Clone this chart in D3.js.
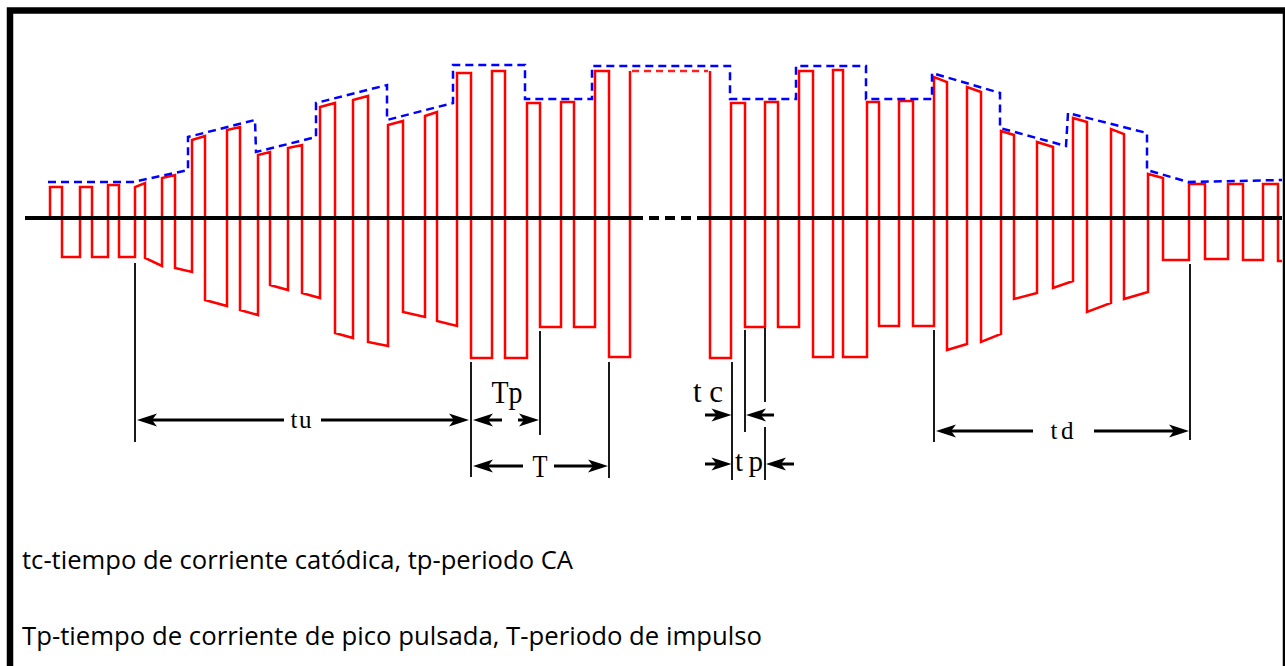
<!DOCTYPE html>
<html>
<head>
<meta charset="utf-8">
<script src="https://cdn.jsdelivr.net/npm/d3@7/dist/d3.min.js"></script>
<style>
  html, body { margin: 0; padding: 0; background: #fff; overflow: hidden; }
</style>
</head>
<body>
<svg id="chart"></svg>
<script>
// --- waveform data (time units, amplitude units) ---
const riseT = [50, 80, 108, 135, 162, 192, 227, 258, 288, 320, 353, 388, 425, 457, 492, 527, 561, 595,
               630, 731, 765, 799, 833, 867, 899, 934, 967, 1001, 1037, 1073, 1111, 1148, 1189, 1228, 1263];
const fallT = [62, 92, 119, 145, 175, 205, 240, 270, 302, 335, 368, 403, 437, 471, 505, 540, 574, 609,
               710, 745, 778, 813, 843, 879, 913, 947, 981, 1014, 1053, 1087, 1124, 1163, 1205, 1243, 1278];
const endT = 1300;
const posStart = [31, 31, 33, 31, 40, 78, 88, 63, 70, 111, 118, 93, 102, 145, 147, 115, 116, 147,
                  147, 115, 116, 147, 148, 116, 117, 141, 131, 87, 76, 100, 89, 44, 34, 34, 34];
const posEnd   = [31, 31, 33, 35, 43, 82, 91, 66, 73, 115, 122, 97, 106, 145, 147, 115, 116, 147,
                  147, 115, 116, 147, 148, 116, 117, 136, 126, 83, 71, 96, 84, 40, 34, 34, 34];
const negStart = [-39, -39, -39, -40, -50, -82, -92, -67, -75, -115, -124, -94, -103, -140, -140, -109, -109, -139,
                  -140, -109, -109, -139, -139, -108, -108, -132, -124, -81, -70, -94, -81, -42, -41, -42, -43];
const negEnd   = [-39, -39, -39, -48, -54, -88, -97, -72, -80, -120, -128, -99, -108, -140, -140, -109, -109, -139,
                  -140, -109, -109, -139, -139, -108, -108, -126, -116, -75, -63, -85, -74, -42, -41, -42, -43];
const brokenCycle = 18;          // top of this pulse is drawn dashed (time axis break)
const breakSpan = [632, 708];

// envelope (blue dashed)
const envT = [48, 133, 188, 188, 255, 256, 316, 316, 387, 387, 453, 453, 525, 525, 592, 592, 730, 730,
              796, 796, 866, 866, 932, 932, 1000, 1000, 1066, 1068, 1147, 1147, 1188, 1283];
const envA = [36, 36, 48, 81, 98, 66, 81, 115, 133, 98, 115, 153, 153, 119, 119, 152, 152, 119,
              119, 152, 152, 119, 119, 145, 125, 90, 72, 105, 85, 48, 36, 38];

// zero axis: solid / broken / solid
const axisT = [[25, 633], [633, 697], [697, 1285]];
const axisDash = [false, true, false];

// dimension annotations
const dimNames  = ['tu', 'Tp', 'T', 'tc', 'tp', 'td'];
const dimFrom   = [135, 471, 471, 732, 732, 934];
const dimTo     = [470, 540, 609, 745, 765, 1190];
const dimLevel  = [-202, -202, -248, -197, -246, -213];
const dimInside = [true, true, true, false, false, true];
const dimGap    = [[284, 321], [502, 518], [523, 554], null, null, [1033, 1094]];
const labelT    = [301, 507, 540, 708, 749, 1062];
const labelA    = [-210, -185, -259, -184, -253, -221];
const labelSize = [25, 31, 31, 31, 29, 25];
const labelLen  = [21, 31, 15, 30, 28, 23];
const labelSqueeze = [false, true, true, false, false, false];

// extension lines
const extT   = [135, 471, 540, 609, 732, 745, 765, 765, 934, 1190];
const extTop = [-45, -144, -113, -144, -144, -112, -110, -209, -112, -46];
const extBot = [-224, -259, -217, -260, -262, -214, -184, -262, -224, -222];

const notes = ['tc-tiempo de corriente catódica, tp-periodo CA',
               'Tp-tiempo de corriente de pico pulsada, T-periodo de impulso'];

// --- setup ---
const W = 1285, H = 666;
const svg = d3.select('#chart').attr('width', W).attr('height', H);

const x = d3.scaleLinear().domain([0, 1285]).range([0, 1285]);
const y = d3.scaleLinear().domain([0, 150]).range([218, 68]);

svg.append('defs').append('clipPath').attr('id', 'plot')
  .append('rect').attr('x', 14).attr('y', 14).attr('width', 1268).attr('height', 500);

// frame
svg.append('rect')
  .attr('x', 10).attr('y', 10.5)
  .attr('width', 1276).attr('height', 720)
  .attr('fill', 'none').attr('stroke', '#000').attr('stroke-width', 6.5);

const plot = svg.append('g').attr('clip-path', 'url(#plot)');

// build the red waveform points
const pts = [[riseT[0], 0]];
riseT.forEach((t, i) => {
  const next = i < riseT.length - 1 ? riseT[i + 1] : endT;
  pts.push([t, posStart[i]]);
  if (i === brokenCycle) pts.push(null);
  pts.push([fallT[i], posEnd[i]]);
  pts.push([fallT[i], negStart[i]]);
  pts.push([next, negEnd[i]]);
});

const line = d3.line()
  .defined(d => d !== null)
  .x(d => x(d[0]))
  .y(d => y(d[1]));

plot.append('path')
  .attr('d', line(pts))
  .attr('fill', 'none')
  .attr('stroke', '#ff0000')
  .attr('stroke-width', 2.5)
  .attr('stroke-linejoin', 'miter');

plot.append('line')
  .attr('x1', x(breakSpan[0])).attr('x2', x(breakSpan[1]))
  .attr('y1', y(posStart[brokenCycle])).attr('y2', y(posEnd[brokenCycle]))
  .attr('stroke', '#ff2020').attr('stroke-width', 2.5)
  .attr('stroke-dasharray', '7,5');

// envelope
plot.append('path')
  .attr('d', line(envT.map((t, i) => [t, envA[i]])))
  .attr('fill', 'none')
  .attr('stroke', '#0000ff')
  .attr('stroke-width', 2.5)
  .attr('stroke-dasharray', '8,5');

// zero axis
plot.selectAll('.axis0')
  .data(axisT)
  .enter()
  .append('line')
  .attr('class', 'axis0')
  .attr('x1', d => x(d[0])).attr('x2', d => x(d[1]))
  .attr('y1', y(0)).attr('y2', y(0))
  .attr('stroke', '#000')
  .attr('stroke-width', 4)
  .attr('stroke-dasharray', (d, i) => axisDash[i] ? '10,6' : null);

// extension lines
svg.selectAll('.ext')
  .data(extT)
  .enter()
  .append('line')
  .attr('class', 'ext')
  .attr('x1', d => x(d)).attr('x2', d => x(d))
  .attr('y1', (d, i) => y(extTop[i])).attr('y2', (d, i) => y(extBot[i]))
  .attr('stroke', '#000')
  .attr('stroke-width', 1.8);

// arrows
const dims = svg.append('g');
function arrow(from, tip, level) {
  const dir = tip > from ? 1 : -1;
  const ay = y(level), L = 20, hw = 6.5;
  dims.append('line')
    .attr('x1', x(from)).attr('x2', x(tip) - dir * L * 0.6)
    .attr('y1', ay).attr('y2', ay)
    .attr('stroke', '#000').attr('stroke-width', 3);
  dims.append('path')
    .attr('d', `M${x(tip)},${ay}L${x(tip) - dir * L},${ay - hw}L${x(tip) - dir * L * 0.75},${ay}L${x(tip) - dir * L},${ay + hw}Z`)
    .attr('fill', '#000');
}

dimNames.forEach((name, i) => {
  if (dimInside[i]) {
    arrow(dimGap[i][0], dimFrom[i] + 2, dimLevel[i]);
    arrow(dimGap[i][1], dimTo[i] - 1, dimLevel[i]);
  } else {
    arrow(dimFrom[i] - 27, dimFrom[i] - 0.5, dimLevel[i]);
    arrow(dimTo[i] + 29, dimTo[i] + 1, dimLevel[i]);
  }
  dims.append('text')
    .attr('x', x(labelT[i]))
    .attr('y', y(labelA[i]))
    .attr('text-anchor', 'middle')
    .attr('font-family', '"Liberation Serif", "DejaVu Serif", serif')
    .attr('font-size', labelSize[i])
    .attr('textLength', labelLen[i])
    .attr('lengthAdjust', labelSqueeze[i] ? 'spacingAndGlyphs' : 'spacing')
    .attr('fill', '#000')
    .text(name);
});

// notes below
svg.selectAll('.note')
  .data(notes)
  .enter()
  .append('text')
  .attr('class', 'note')
  .attr('x', 22)
  .attr('y', (d, i) => 569 + i * 76)
  .attr('font-family', '"Open Sans", sans-serif')
  .attr('font-size', 25)
  .attr('textLength', (d, i) => i === 0 ? 551 : 740)
  .attr('lengthAdjust', 'spacingAndGlyphs')
  .attr('fill', '#000')
  .text(d => d);
</script>
</body>
</html>
